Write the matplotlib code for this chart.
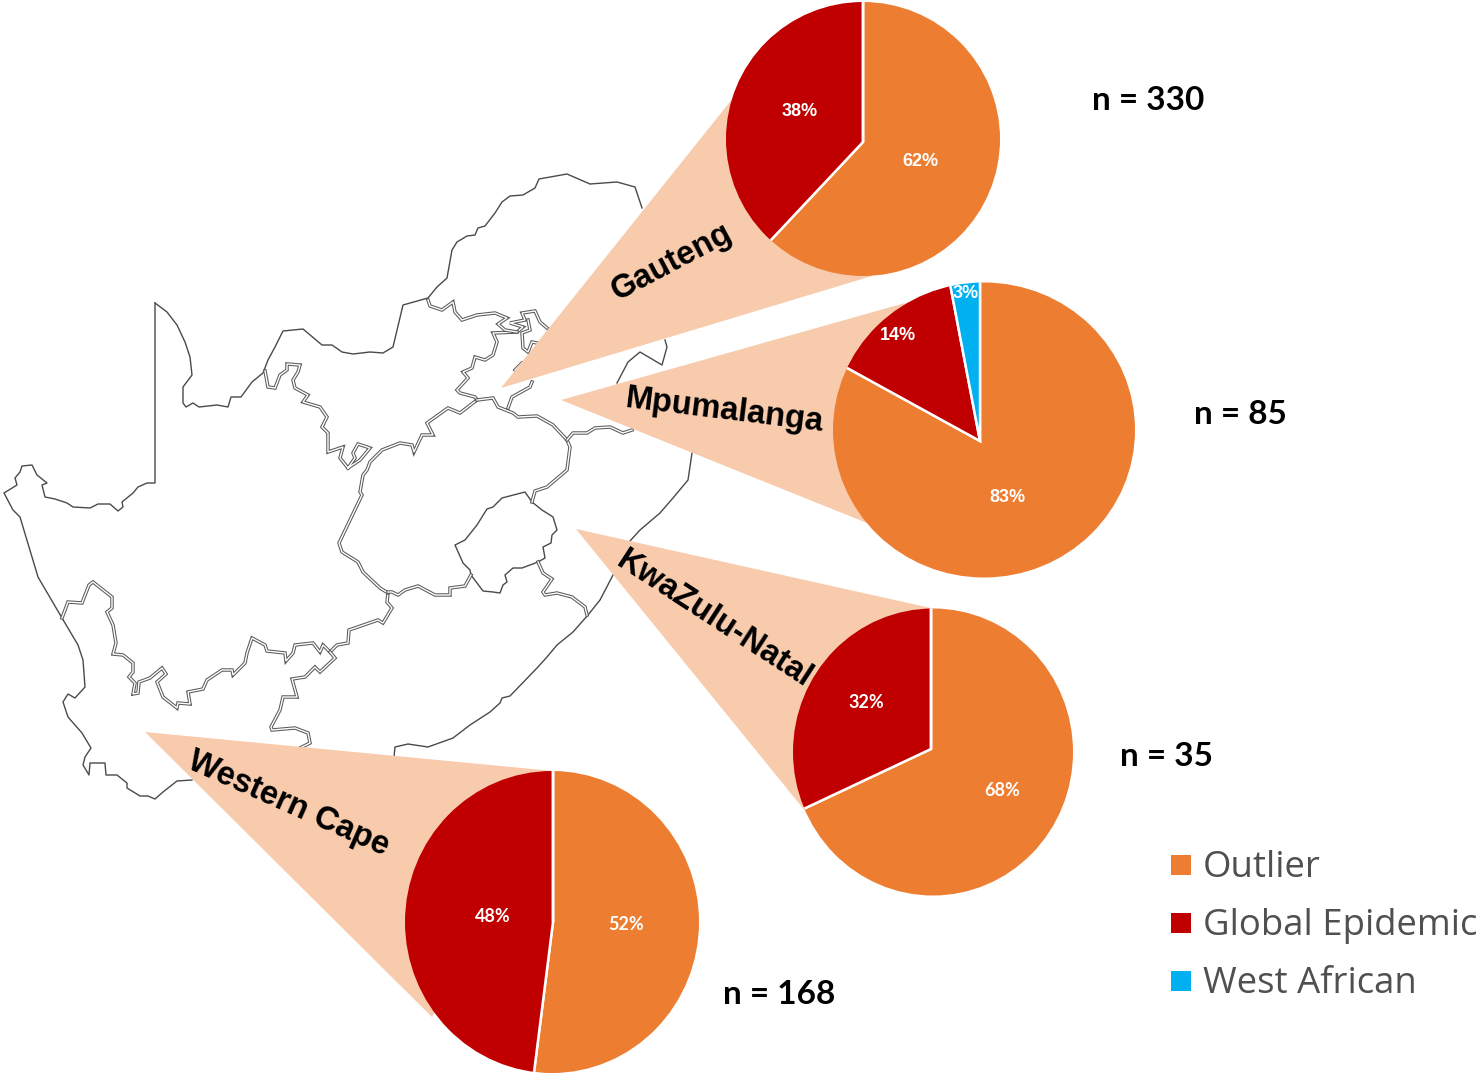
import matplotlib
matplotlib.use('Agg')
import matplotlib.pyplot as plt
from matplotlib.patches import Polygon, Ellipse, Rectangle

W, H = 1476, 1079

# pie data
regions = ['Gauteng', 'Mpumalanga', 'KwaZulu-Natal', 'Western Cape']
counts = [330, 85, 35, 168]
outlier = [62, 83, 68, 52]
global_epidemic = [38, 14, 32, 48]
west_african = [0, 3, 0, 0]
categories = ['Outlier', 'Global Epidemic', 'West African']
colors = ['#ED7D31', '#C00000', '#00B0F0']
wedge_color = '#F8CBAD'

# pie geometry, the circles in the picture are a bit stretched and the slices
# do not meet in the middle, so pie is drawn from apex and clipped to the ellipse
apex = [(863, 142), (980, 441), (931, 749), (553, 922)]
ellipse_xy = [(863, 139), (984, 430), (933, 752), (552, 922)]
ellipse_wh = [(274, 274), (302, 295), (280, 287), (294, 302)]
callouts = [[(501, 388), (737, 93), (872, 276)],
            [(561, 400), (905, 303), (872, 525)],
            [(576, 529), (935, 609), (806, 812)],
            [(145, 732), (553, 771), (432, 1017)]]
name_xy = [(672, 262), (725, 411), (714, 619), (288, 804)]
name_rot = [28, -7, -33, -24]
n_xy = [(1148, 100), (1240, 415), (1167, 756), (779, 995)]
pct_xy = [[(920, 162), (800, 112)],
          [(1007, 498), (898, 336), (966, 294)],
          [(1002, 790), (866, 703)],
          [(626, 924), (493, 916)]]
pct_font = ['Liberation Sans', 'Liberation Sans', 'Lato', 'Lato']

# map outlines, picture pixels
coast_west = [(155, 303), (155, 483), (147, 483), (138, 487), (133, 493), (122, 502), (123, 507), (118, 511),
              (110, 504), (98, 504), (90, 508), (73, 507), (67, 503), (55, 499), (45, 497), (42, 485), (47, 483),
              (37, 475), (32, 465), (22, 466), (20, 472), (15, 478), (17, 485), (4, 493), (13, 510), (20, 517),
              (38, 577), (62, 618), (78, 645), (83, 660), (85, 687), (75, 698), (68, 694), (63, 702), (68, 717),
              (82, 733), (91, 748), (85, 757), (83, 765), (89, 775), (90, 763), (105, 763), (106, 775), (117, 775),
              (127, 783), (127, 788), (140, 796), (148, 796), (155, 799), (163, 792), (177, 781), (192, 780)]
coast_east = [(394, 757), (395, 747), (408, 744), (428, 747), (453, 738), (470, 725), (490, 712), (500, 703),
              (502, 698), (510, 696), (537, 668), (547, 657), (557, 645), (573, 632), (588, 615), (600, 600),
              (612, 577), (630, 541), (640, 530), (660, 513), (673, 498), (688, 480), (692, 453)]
swazi = [(665, 340), (667, 347), (662, 365), (640, 352), (628, 362), (617, 383)]
north = [(155, 303), (167, 312), (177, 325), (185, 342), (190, 357), (192, 375), (183, 387), (183, 403), (186, 407),
         (193, 403), (199, 407), (217, 405), (228, 407), (231, 397), (241, 397), (252, 382), (263, 373), (268, 360),
         (275, 347), (283, 331), (303, 329), (322, 345), (332, 345), (342, 352), (353, 354), (370, 352), (383, 353),
         (393, 347), (403, 305), (428, 298), (437, 287), (447, 278), (452, 250), (457, 242), (467, 236), (475, 235),
         (478, 228), (485, 226), (495, 213), (502, 202), (510, 196), (523, 195), (535, 188), (539, 179), (567, 174),
         (590, 184), (617, 182), (635, 187), (642, 208)]
lesotho = [(532, 502), (525, 492), (502, 498), (493, 507), (487, 509), (477, 525), (465, 540), (455, 545), (463, 563),
           (470, 570), (471, 575), (483, 591), (493, 592), (500, 593), (503, 585), (507, 582), (505, 575), (513, 568),
           (522, 568), (538, 562), (545, 558), (543, 547), (551, 543), (552, 535), (557, 530), (553, 517), (542, 510),
           (532, 502)]

nc_south = [(62, 618), (68, 602), (82, 603), (89, 585), (93, 582), (112, 597), (112, 608), (107, 612), (113, 625),
            (116, 643), (113, 654), (123, 655), (133, 663), (133, 672), (129, 677), (135, 683), (133, 694), (138, 693),
            (139, 682), (150, 678), (162, 668), (166, 674), (157, 682), (163, 697), (177, 708), (178, 703), (190, 704),
            (188, 692), (203, 689), (207, 680), (222, 670), (232, 670), (233, 675), (245, 663), (247, 653), (252, 638),
            (265, 645), (267, 651), (285, 653), (286, 661), (293, 653), (295, 645), (313, 643), (320, 652), (323, 645),
            (330, 652), (337, 645), (348, 643), (349, 630), (378, 620), (383, 623), (392, 608), (387, 602), (388, 593)]
wc_ec = [(330, 652), (335, 658), (320, 672), (315, 667), (305, 677), (292, 679), (297, 697), (283, 697), (280, 710),
         (271, 727), (272, 730), (295, 728), (308, 733), (310, 743), (300, 748)]
nc_fs = [(388, 593), (380, 588), (363, 572), (358, 562), (342, 552), (339, 543), (362, 495), (360, 492), (363, 475),
         (367, 470), (370, 462), (382, 450), (400, 443), (412, 445), (414, 452), (422, 435), (433, 435), (427, 423),
         (448, 408), (460, 413), (473, 403), (477, 400)]
nc_nw = [(265, 371), (268, 387), (275, 388), (280, 375), (287, 370), (287, 364), (300, 365), (298, 372), (293, 380),
         (295, 388), (308, 395), (303, 402), (320, 407), (327, 417), (322, 427), (328, 433), (328, 452), (343, 447),
         (340, 458), (348, 468), (360, 460), (370, 448), (358, 444), (353, 453), (355, 458), (348, 468)]
nw_gauteng = [(477, 400), (475, 397), (460, 393), (457, 390), (468, 378), (463, 372), (472, 368), (475, 357), (485, 360),
              (493, 355), (497, 342), (493, 333), (517, 332), (523, 327), (510, 323), (525, 320), (522, 313), (535, 311),
              (540, 322), (547, 328)]
gauteng_in = [(528, 320), (530, 330), (522, 333), (523, 348), (528, 352), (532, 342), (537, 343)]
nw_limpopo = [(428, 300), (430, 306), (442, 310), (453, 302), (455, 312), (462, 320), (477, 315), (495, 313), (507, 318),
              (498, 324), (505, 330), (517, 332)]
fs_east = [(477, 400), (493, 398), (498, 407), (513, 413), (518, 417), (537, 416), (553, 425), (567, 440), (570, 447),
           (567, 470), (547, 487), (535, 491), (532, 502)]
mp_kzn = [(567, 440), (573, 433), (587, 433), (595, 428), (610, 427), (623, 433), (632, 430)]
gauteng_south = [(508, 408), (512, 397), (530, 387), (532, 382)]
gauteng_east = [(515, 370), (522, 363)]
fs_ec = [(471, 575), (465, 586), (450, 588), (450, 595), (435, 595), (418, 586), (405, 590), (398, 595), (392, 592),
         (388, 592)]
ec_kzn = [(538, 562), (543, 573), (552, 579), (543, 592), (545, 595), (557, 593), (572, 597), (585, 607), (587, 615)]

single_lines = [coast_west, coast_east, swazi, north, lesotho]
double_lines = [nc_south, wc_ec, nc_fs, nc_nw, nw_gauteng, gauteng_in, nw_limpopo, fs_east, mp_kzn, gauteng_south,
                gauteng_east, fs_ec, ec_kzn]


def flip(pts):
    return [(x, H - y) for x, y in pts]


fig = plt.figure(figsize=(W / 100, H / 100), dpi=100)
ax = fig.add_axes([0, 0, 1, 1])

for line in single_lines:
    xs, ys = zip(*flip(line))
    ax.plot(xs, ys, color='#4a4a4a', lw=1.0, zorder=1)
for line in double_lines:
    xs, ys = zip(*flip(line))
    ax.plot(xs, ys, color='#5a5a5a', lw=2.5, zorder=1, solid_joinstyle='miter')
    ax.plot(xs, ys, color='white', lw=1.0, zorder=1, solid_joinstyle='miter')

for k in range(len(regions)):
    ax.add_patch(Polygon(flip(callouts[k]), closed=True, color=wedge_color, lw=0, zorder=2))

    vals = [outlier[k], global_epidemic[k], west_african[k]]
    cx, cy = flip([apex[k]])[0]
    ex, ey = flip([ellipse_xy[k]])[0]
    clip = Ellipse((ex, ey), ellipse_wh[k][0], ellipse_wh[k][1], transform=ax.transData)
    slices, _ = ax.pie(vals, colors=colors, center=(cx, cy), radius=190, startangle=90, counterclock=False,
                       wedgeprops={'edgecolor': 'white', 'linewidth': 1.8, 'zorder': 3}, frame=True)
    for s in slices:
        s.set_clip_on(True)   # pie turns clipping off
        s.set_clip_path(clip)

    ax.text(name_xy[k][0], H - name_xy[k][1], regions[k], rotation=name_rot[k], rotation_mode='anchor',
            ha='center', va='center', fontsize=23.5, fontweight='bold', family='Liberation Sans', color='black',
            zorder=5)
    ax.text(n_xy[k][0], H - n_xy[k][1], 'n = %d' % counts[k], ha='center', va='center', fontsize=24,
            fontweight='bold', family='Lato', color='black', zorder=5)
    shown = [v for v in vals if v > 0]
    for v, (px, py) in zip(shown, pct_xy[k]):
        ax.text(px, H - py, '%d%%' % v, ha='center', va='center', fontsize=13, fontweight='bold',
                family=pct_font[k], color='white', zorder=5)

# legend
legend_y = [865, 923, 981]
for name, col, y in zip(categories, colors, legend_y):
    ax.add_patch(Rectangle((1171, H - y - 10), 20, 20, color=col, lw=0, zorder=4))
    ax.text(1203, H - y - 3, name, ha='left', va='center', fontsize=26.3, family='Open Sans', color='#505050', zorder=5)

ax.set_xlim(0, W)
ax.set_ylim(0, H)
ax.axis('off')

plt.savefig('out.png', dpi=100)
